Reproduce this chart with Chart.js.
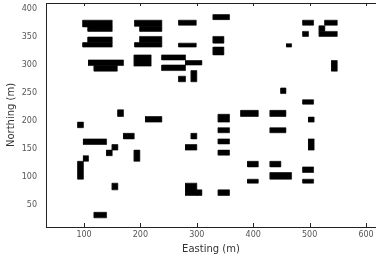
<!DOCTYPE html>
<html>
<head>
<meta charset="utf-8">
<script src="https://cdn.jsdelivr.net/npm/chart.js@4/dist/chart.umd.min.js"></script>
<style>
    html, body { margin: 0; padding: 0; background: #fff; }
    .chart-wrap { position: relative; width: 376px; height: 264px; }
</style>
</head>
<body>
<div class="chart-wrap"><canvas id="cells"></canvas></div>
<script>(function() { "use strict";

    // extents of each occupied cell block (m)
    var eastMin  = [98, 107, 107, 98, 108, 118, 190, 199, 199, 190, 189, 268, 268, 238, 238, 280, 268, 290, 160, 329,
                    329, 329, 459, 488, 488, 527, 517, 517, 539, 449, 488, 338, 378, 430, 338, 338, 338, 430, 498, 498,
                    390, 430, 430, 390, 488, 488, 338, 209, 89, 170, 99, 150, 140, 189, 99, 89, 150, 290, 280, 280,
                    300, 118];
    var eastMax  = [150, 150, 150, 150, 170, 159, 238, 238, 238, 238, 219, 299, 299, 280, 280, 309, 280, 300, 170, 358,
                    348, 348, 468, 507, 498, 549, 527, 549, 549, 458, 507, 358, 409, 458, 358, 358, 358, 458, 508, 508,
                    409, 449, 468, 409, 507, 507, 358, 238, 99, 189, 140, 160, 150, 199, 108, 99, 160, 300, 300, 300,
                    309, 140];
    var northMin = [368, 360, 340, 332, 299, 289, 369, 360, 340, 332, 298, 371, 332, 309, 290, 300, 270, 270, 208, 381,
                    339, 318, 332, 371, 351, 371, 360, 351, 289, 249, 230, 198, 208, 208, 179, 159, 139, 179, 198, 148,
                    118, 118, 96, 89, 108, 89, 67, 198, 188, 168, 158, 148, 138, 128, 128, 96, 77, 168, 148, 67,
                    67, 27];
    var northMax = [380, 368, 350, 340, 309, 299, 380, 369, 351, 340, 318, 380, 339, 318, 300, 308, 280, 290, 220, 390,
                    351, 332, 338, 380, 360, 380, 370, 360, 308, 259, 238, 212, 219, 219, 188, 168, 148, 188, 207, 168,
                    128, 128, 108, 96, 118, 96, 77, 208, 198, 178, 168, 158, 148, 148, 138, 128, 89, 178, 158, 89,
                    77, 37];

    var eastTicks  = [100, 200, 300, 400, 500, 600];
    var northTicks = [50, 100, 150, 200, 250, 300, 350, 400];

    var datasets = eastMin.map(function(e0, i) {
        var e1 = eastMax[i], n0 = northMin[i], n1 = northMax[i];
        return {
            data: [{x: e0, y: n0}, {x: e1, y: n0}, {x: e1, y: n1}, {x: e0, y: n1}, {x: e0, y: n0}],
            fill: 'shape',
            backgroundColor: '#000',
            borderColor: '#000',
            borderWidth: 0.6,
            pointRadius: 0,
            tension: 0
        };
    });

    // top frame line and little inward ticks, like the original plot
    var framePlugin = {
        id: 'frame',
        afterDraw: function(chart) {
            var ctx = chart.ctx, area = chart.chartArea, xs = chart.scales.x;
            ctx.save();
            ctx.strokeStyle = '#222';
            ctx.lineWidth = 1;
            ctx.beginPath();
            ctx.moveTo(area.left, area.top + 0.5);
            ctx.lineTo(area.right, area.top + 0.5);
            eastTicks.forEach(function(v) {
                var px = Math.round(xs.getPixelForValue(v)) + 0.5;
                ctx.moveTo(px, area.bottom);
                ctx.lineTo(px, area.bottom - 4);
                ctx.moveTo(px, area.top);
                ctx.lineTo(px, area.top + 3);
            });
            ctx.stroke();
            ctx.restore();
        }
    };

    var tickFont = { family: 'DejaVu Sans', size: 8 };
    var titleFont = { family: 'DejaVu Sans', size: 10 };

    new Chart(document.getElementById('cells'), {
        type: 'line',
        data: { datasets: datasets },
        plugins: [framePlugin],
        options: {
            responsive: true,
            maintainAspectRatio: false,
            animation: false,
            events: [],
            layout: { padding: { top: 3, right: 0, left: 0, bottom: 0 } },
            plugins: {
                legend: { display: false },
                tooltip: { enabled: false }
            },
            scales: {
                x: {
                    type: 'linear',
                    min: 32.6,
                    max: 617.7,
                    afterBuildTicks: function(scale) {
                        scale.ticks = eastTicks.map(function(v) { return {value: v}; });
                    },
                    afterFit: function(scale) {
                        scale.height = 37;
                        scale.paddingLeft = 0;
                        scale.paddingRight = 0;
                    },
                    grid: { display: false, drawTicks: false },
                    border: { display: true, color: '#222', width: 1 },
                    ticks: { font: tickFont, color: '#555', padding: 3, maxRotation: 0 },
                    title: {
                        display: true,
                        text: 'Easting (m)',
                        font: titleFont,
                        color: '#333',
                        padding: { top: 0, bottom: 9 }
                    }
                },
                y: {
                    type: 'linear',
                    min: 10.7,
                    max: 410.7,
                    afterBuildTicks: function(scale) {
                        scale.ticks = northTicks.map(function(v) { return {value: v}; });
                    },
                    afterFit: function(scale) {
                        scale.width = 46;
                        scale.paddingTop = 0;
                        scale.paddingBottom = 0;
                    },
                    grid: { display: false, drawTicks: false },
                    border: { display: true, color: '#222', width: 1 },
                    ticks: { font: tickFont, color: '#555', padding: 9 },
                    title: {
                        display: true,
                        text: 'Northing (m)',
                        font: titleFont,
                        color: '#333',
                        padding: { top: 5, bottom: 0 }
                    }
                }
            }
        }
    });

})();</script>
</body>
</html>
